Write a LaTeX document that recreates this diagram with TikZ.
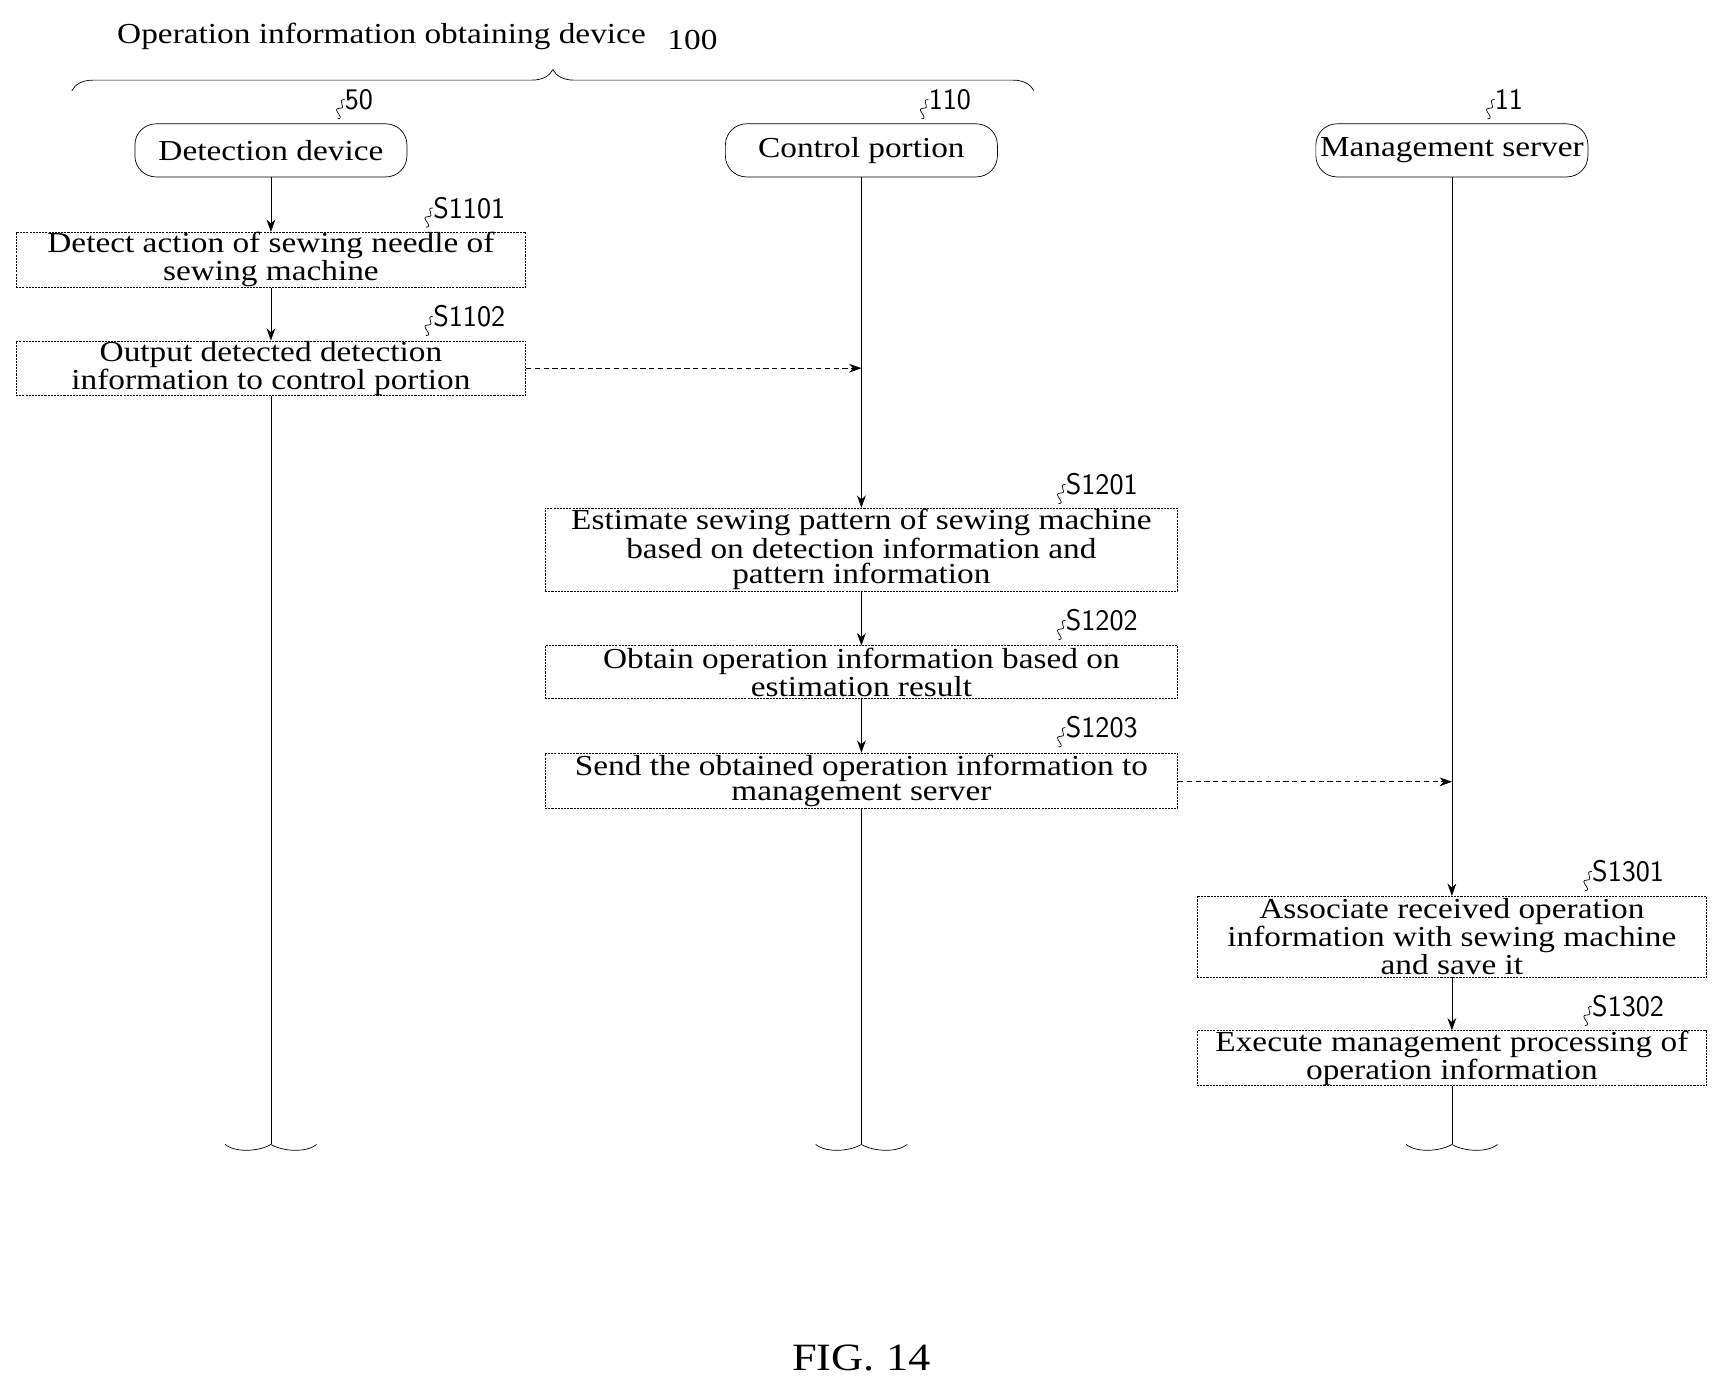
\documentclass[tikz,border=0pt]{standalone}
\usepackage{fontspec}
\setmainfont{Liberation Serif}[FakeStretch=1.15]
\usepackage{tikz}
\usetikzlibrary{arrows.meta,positioning,decorations.pathreplacing}

\begin{document}
\begin{tikzpicture}[
  x=0.02212cm, y=-0.02212cm,
  font=\fontsize{16.5}{14.5}\selectfont,
  head/.style={draw,rounded corners=12pt,minimum width=246*0.02212cm,minimum height=48*0.02212cm,inner sep=0pt},
  stepbox/.style={draw,dashed,dash pattern=on 1.2pt off 0.6pt,align=center,inner sep=0pt},
  flow/.style={-{Stealth[length=7pt,width=5pt]}},
  msg/.style={flow,dashed,dash pattern=on 3pt off 2pt},
  tag/.style={anchor=west,inner sep=1pt,font=\fontsize{17}{17}\selectfont\sffamily},
  life/.style={draw}
]
\useasboundingbox (0,0) rectangle (1560,1255);

% --- header ---
\node (title) at (345,33) {Operation information obtaining device};
\node[anchor=west] (n100) at (598,36) {100};
\draw[decorate,decoration={brace,amplitude=12pt}] (65,82) -- (935,82);

% --- lifeline heads ---
\node[head] (det) at (245,136) {Detection device};
\node[head] (ctl) at (779,136) {Control portion};
\node[head] (srv) at (1313,136) {Management server};

% --- steps ---
\node[stepbox,minimum width=461*0.02212cm,minimum height=50*0.02212cm] (s1101) at (245,235) {Detect action of sewing needle of\\sewing machine};
\node[stepbox,minimum width=461*0.02212cm,minimum height=47*0.02212cm] (s1102) at (245,333) {Output detected detection\\information to control portion};
\node[stepbox,minimum width=572*0.02212cm,minimum height=75*0.02212cm] (s1201) at (779,497) {Estimate sewing pattern of sewing machine\\based on detection information and\\pattern information};
\node[stepbox,minimum width=572*0.02212cm,minimum height=48*0.02212cm] (s1202) at (779,608) {Obtain operation information based on\\estimation result};
\node[stepbox,minimum width=572*0.02212cm,minimum height=50*0.02212cm] (s1203) at (779,706) {Send the obtained operation information to\\management server};
\node[stepbox,minimum width=461*0.02212cm,minimum height=73*0.02212cm] (s1301) at (1313,847) {Associate received operation\\information with sewing machine\\and save it};
\node[stepbox,minimum width=461*0.02212cm,minimum height=49*0.02212cm] (s1302) at (1313,957) {Execute management processing of\\operation information};

% --- reference tags with squiggles ---
\foreach \nm/\px/\py/\txt in {t50/310/90/50, t110/838/90/110, t11/1350/90/11,
  t1101/390/188/S1101, t1102/390/286/S1102, t1201/962/438/S1201,
  t1202/962/561/S1202, t1203/962/658/S1203, t1301/1438/788/S1301, t1302/1438/910/S1302}{
  \node[tag] (\nm) at (\px,\py) {\txt};
  \draw ([xshift=1pt]\nm.west) .. controls +(-5pt,0) and +(5pt,0) .. ++(-3pt,-5pt)
        .. controls +(-5pt,0) and +(5pt,0) .. ++(-1pt,-6pt);
}
\node (fig) at (779,1228) {\fontsize{22}{22}\selectfont FIG. 14};

% --- end marks ---
\coordinate (e1) at (245,1035);
\coordinate (e2) at (779,1035);
\coordinate (e3) at (1313,1035);

% --- flows ---
\draw[flow] (det) -- (s1101);
\draw[flow] (s1101) -- (s1102);
\draw[life] (s1102) -- (e1);
\coordinate (r1) at (779,333);
\draw[msg] (s1102.east |- r1) -- (r1);
\draw[flow] (ctl) -- (s1201);
\draw[flow] (s1201) -- (s1202);
\draw[flow] (s1202) -- (s1203);
\draw[life] (s1203) -- (e2);
\coordinate (r2) at (1313,707);
\draw[msg] (s1203.east |- r2) -- (r2);
\draw[flow] (srv) -- (s1301);
\draw[flow] (s1301) -- (s1302);
\draw[life] (s1302) -- (e3);

\foreach \e in {e1,e2,e3}{
  \draw ([xshift=-26]\e) .. controls +(10,8) and +(-10,6) .. (\e)
        .. controls +(10,6) and +(-10,8) .. ([xshift=26]\e);
}
\end{tikzpicture}
\end{document}
